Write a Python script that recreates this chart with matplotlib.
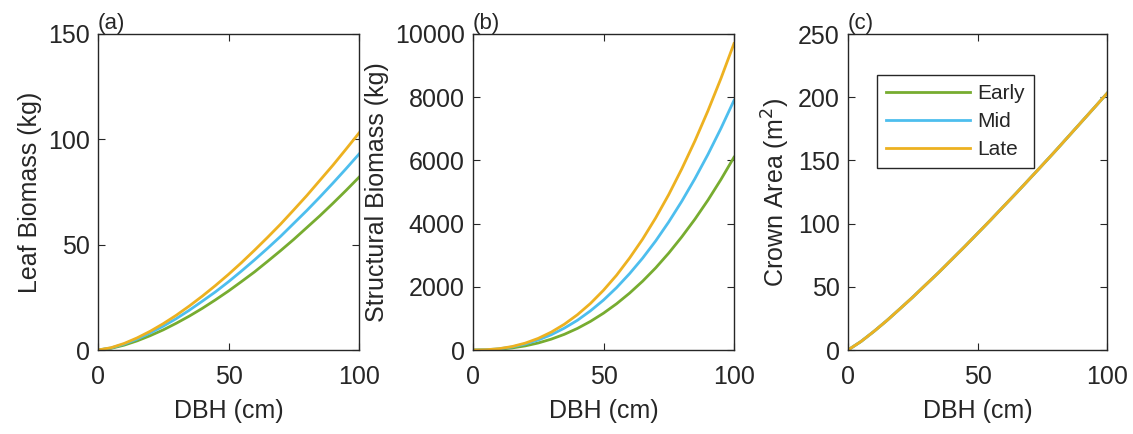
import numpy as np
import matplotlib.pyplot as plt

# DBH (cm) sample points
dbh = [0, 5, 10, 15, 20, 25, 30, 35, 40, 45, 50, 55, 60, 65, 70, 75, 80, 85, 90, 95, 100]

# leaf biomass (kg)
leaf_early = [0, 0.79, 2.3, 4.34, 6.8, 9.56, 12.7, 16.1, 19.8, 23.8, 28.0,
              32.5, 37.1, 42.1, 47.2, 52.5, 58.1, 63.7, 69.6, 75.7, 82.0]
leaf_mid = [0, 0.98, 2.8, 5.2, 8.1, 11.3, 14.9, 18.9, 23.2, 27.6, 32.4,
            37.5, 42.8, 48.3, 54.0, 60.1, 66.2, 72.6, 79.2, 86.0, 93.0]
leaf_late = [0, 1.09, 3.1, 5.76, 8.9, 12.5, 16.5, 20.9, 25.6, 30.6, 35.9,
             41.5, 47.4, 53.5, 59.8, 66.5, 73.3, 80.5, 87.7, 95.3, 103.0]

# structural biomass (kg)
struct_early = [0, 5, 25, 66, 130, 222, 344, 496, 683, 905, 1165,
                1462, 1800, 2178, 2599, 3067, 3581, 4137, 4740, 5396, 6100]
struct_mid = [0, 8, 38, 97, 189, 317, 483, 692, 940, 1239, 1580,
              1973, 2417, 2908, 3452, 4053, 4708, 5419, 6186, 7014, 7900]
struct_late = [0, 8, 42, 110, 217, 368, 567, 815, 1116, 1473, 1891,
               2366, 2910, 3510, 4181, 4919, 5733, 6611, 7566, 8594, 9700]

# crown area (m2), identical for all three
crown = [0, 6.7, 14.7, 23.3, 32.5, 41.8, 51.6, 61.3, 71.5, 81.7, 92.2,
         102.7, 113.5, 124.2, 135.2, 146.2, 157.3, 168.7, 180.1, 191.5, 203.0]

labels = ["Early", "Mid", "Late"]
colors = ["#77AC30", "#4DBEEE", "#EDB120"]

plt.rcParams.update({"font.family": ["Liberation Sans", "DejaVu Sans"]})
txt = "#262626"

fig = plt.figure(figsize=(11.33, 4.34), dpi=100)
W, H = 1133.0, 434.0
boxes = [(98, 359), (473, 734), (848, 1107)]
top, bottom = 34, 350

panels = [
    ([leaf_early, leaf_mid, leaf_late], "Leaf Biomass (kg)", (0, 150), [0, 50, 100, 150], "(a)"),
    ([struct_early, struct_mid, struct_late], "Structural Biomass (kg)", (0, 10000),
     [0, 2000, 4000, 6000, 8000, 10000], "(b)"),
    ([crown, crown, crown], "Crown Area (m$^2$)", (0, 250), [0, 50, 100, 150, 200, 250], "(c)"),
]

for (x0, x1), (series, ylab, ylim, yticks, tag) in zip(boxes, panels):
    ax = fig.add_axes([x0 / W, 1 - bottom / H, (x1 - x0) / W, (bottom - top) / H])
    for s, lab, c in zip(series, labels, colors):
        ax.plot(dbh, s, color=c, lw=2, label=lab)
    ax.set_xlim(0, 100)
    ax.set_ylim(*ylim)
    ax.set_xticks([0, 50, 100])
    ax.set_yticks(yticks)
    ax.tick_params(direction="in", top=True, right=True, labelsize=18,
                   colors=txt, length=5, width=0.8)
    ax.tick_params(axis="x", pad=11)
    ax.tick_params(axis="y", pad=6)
    for sp in ax.spines.values():
        sp.set_color(txt)
        sp.set_linewidth(1.0)
    ax.set_xlabel("DBH (cm)", fontsize=18, color=txt, labelpad=7)
    ax.set_ylabel(ylab, fontsize=18, color=txt, labelpad=4)
    ax.text(0.0, 1.0, tag, transform=ax.transAxes, fontsize=16, color=txt,
            ha="left", va="bottom")
    if tag == "(c)":
        leg = ax.legend(loc="upper left", bbox_to_anchor=(0.112, 0.87), borderaxespad=0,
                        fontsize=15, handlelength=4.0, handletextpad=0.35, fancybox=False,
                        edgecolor=txt, framealpha=1, borderpad=0.45, labelspacing=0.42)
        leg.get_frame().set_linewidth(1.0)
        for t in leg.get_texts():
            t.set_color(txt)

fig.savefig("out.png", dpi=100)
